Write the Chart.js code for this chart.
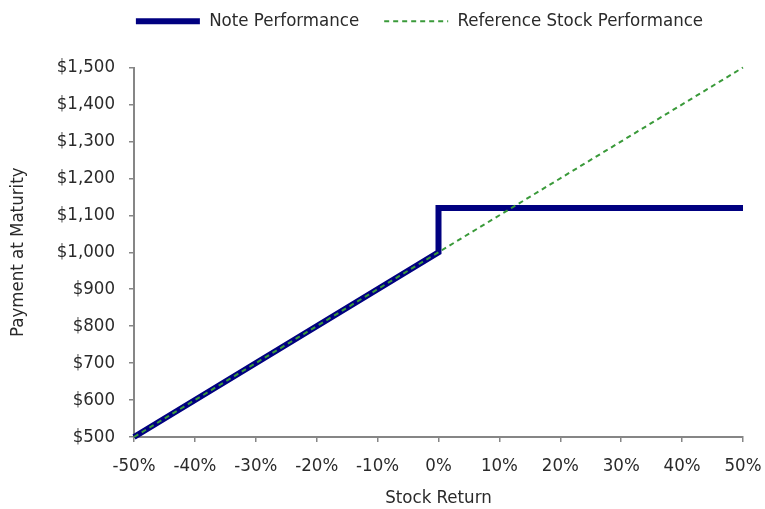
<!DOCTYPE html>
<html lang="en">
<head>
    <meta charset="UTF-8">
    <title>Note vs Reference Stock Performance</title>
    <script src="https://cdn.jsdelivr.net/npm/chart.js"></script>
    <style>
        body {
            margin: 0;
            background-color: #ffffff;
        }
        .chart-box {
            width: 765px;
            height: 509px;
        }
    </style>
</head>
<body>
    <div class="chart-box">
        <canvas id="payoffChart"></canvas>
    </div>

    <script>
        // Note performance: linear downside, jump at 0%, capped above
        const noteReturns = [-50, 0, 0, 50];
        const notePayments = [500, 1000, 1120, 1120];

        // Reference stock: straight 1:1 line
        const stockReturns = [-50, 50];
        const stockPayments = [500, 1500];

        const xTicks = [-50, -40, -30, -20, -10, 0, 10, 20, 30, 40, 50];
        const yTicks = [500, 600, 700, 800, 900, 1000, 1100, 1200, 1300, 1400, 1500];

        const fontFamily = "'DejaVu Sans Condensed', 'Liberation Sans Narrow', sans-serif";
        const fontSize = 18.5;
        const textColor = '#2a2a2a';
        const axisColor = '#868686';

        // nudge the legend to where it sits in the original
        const legendShift = {
            id: 'legendShift',
            afterLayout(chart) {
                chart.legend.left += 48;
                chart.legend.right += 48;
                chart.legend.top -= 27;
            }
        };

        new Chart(document.getElementById('payoffChart').getContext('2d'), {
            type: 'line',
            data: {
                datasets: [{
                    label: 'Note Performance',
                    data: noteReturns.map((x, i) => ({ x: x, y: notePayments[i] })),
                    borderColor: '#000080',
                    backgroundColor: '#000080',
                    borderWidth: 6,
                    borderJoinStyle: 'miter',
                    pointRadius: 0,
                    tension: 0,
                    clip: false,
                    order: 1
                }, {
                    label: 'Reference Stock Performance',
                    data: stockReturns.map((x, i) => ({ x: x, y: stockPayments[i] })),
                    borderColor: '#3a9a3a',
                    backgroundColor: '#3a9a3a',
                    borderWidth: 2,
                    borderDash: [5, 4],
                    pointRadius: 0,
                    tension: 0,
                    clip: false,
                    order: 0
                }]
            },
            options: {
                responsive: true,
                maintainAspectRatio: false,
                animation: false,
                layout: {
                    padding: { left: 0, right: 22, top: 14, bottom: 0 }
                },
                plugins: {
                    legend: {
                        position: 'top',
                        labels: {
                            usePointStyle: true,
                            pointStyle: 'line',
                            pointStyleWidth: 64,
                            padding: 25,
                            color: textColor,
                            font: { family: fontFamily, size: fontSize },
                            sort: (a, b) => a.datasetIndex - b.datasetIndex,
                            generateLabels: (chart) => {
                                const items = Chart.defaults.plugins.legend.labels.generateLabels(chart);
                                items.forEach(item => {
                                    const ds = chart.data.datasets[item.datasetIndex];
                                    item.lineDash = ds.borderDash || [];
                                    item.lineWidth = ds.borderWidth;
                                    item.strokeStyle = ds.borderColor;
                                });
                                return items;
                            }
                        }
                    },
                    tooltip: { enabled: false }
                },
                scales: {
                    x: {
                        type: 'linear',
                        min: -50,
                        max: 50,
                        afterBuildTicks: (scale) => {
                            scale.ticks = xTicks.map(v => ({ value: v }));
                        },
                        afterFit: (scale) => {
                            scale.height = 72;
                            scale.paddingLeft = 0;
                            scale.paddingRight = 0;
                        },
                        border: { color: axisColor, width: 2 },
                        grid: {
                            drawOnChartArea: false,
                            tickLength: 5,
                            color: axisColor,
                            lineWidth: 1.5
                        },
                        ticks: {
                            padding: 13,
                            maxRotation: 0,
                            color: textColor,
                            font: { family: fontFamily, size: fontSize },
                            callback: (v) => v + '%'
                        },
                        title: {
                            display: true,
                            text: 'Stock Return',
                            color: textColor,
                            padding: { top: 4, bottom: 0 },
                            font: { family: fontFamily, size: fontSize }
                        }
                    },
                    y: {
                        min: 500,
                        max: 1500,
                        afterBuildTicks: (scale) => {
                            scale.ticks = yTicks.map(v => ({ value: v }));
                        },
                        afterFit: (scale) => {
                            scale.width = 134;
                            scale.paddingTop = 0;
                            scale.paddingBottom = 0;
                        },
                        border: { color: axisColor, width: 2 },
                        grid: {
                            drawOnChartArea: false,
                            tickLength: 5,
                            color: axisColor,
                            lineWidth: 1.5
                        },
                        ticks: {
                            padding: 14,
                            color: textColor,
                            font: { family: fontFamily, size: fontSize },
                            callback: (v) => '$' + v.toLocaleString('en-US')
                        },
                        title: {
                            display: true,
                            text: 'Payment at Maturity',
                            color: textColor,
                            padding: { top: 7, bottom: 0 },
                            font: { family: fontFamily, size: fontSize }
                        }
                    }
                }
            },
            plugins: [legendShift]
        });
    </script>
</body>
</html>
